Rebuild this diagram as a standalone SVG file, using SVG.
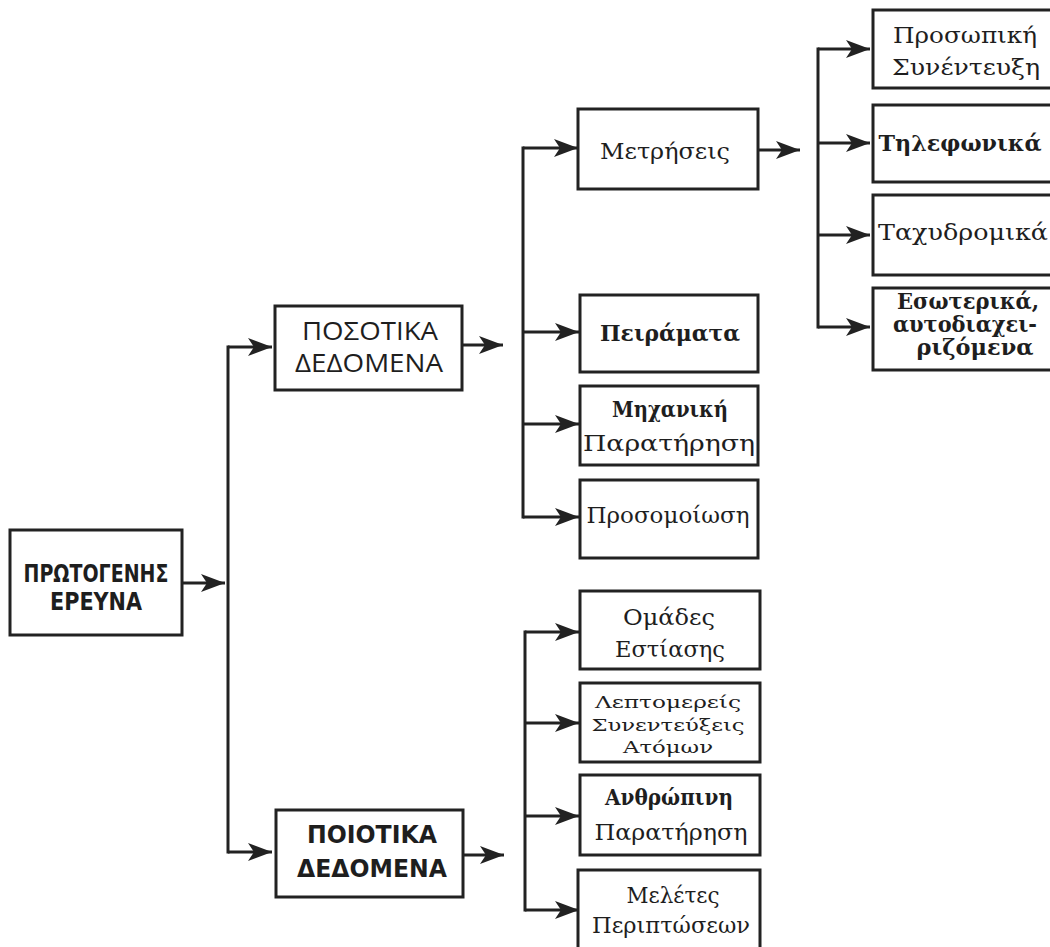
<svg xmlns="http://www.w3.org/2000/svg" width="1050" height="947" viewBox="0 0 1050 947">
  <defs>
    <marker id="arrow" markerUnits="userSpaceOnUse" markerWidth="26" markerHeight="22" refX="24" refY="11" orient="auto">
      <path d="M0,2 L24,11 L0,20 L6,11 Z" fill="#222"/>
    </marker>
    <style>
      .box { fill: #fff; stroke: #222; stroke-width: 3; }
      .wire { fill: none; stroke: #222; stroke-width: 3; }
      .tip { fill: none; stroke: #222; stroke-width: 3; marker-end: url(#arrow); }
      text { fill: #1e1e1e; text-anchor: middle; }
      .sansb { font-family: "DejaVu Sans", "Liberation Sans", sans-serif; font-weight: bold; font-size: 25px; }
      .sans { font-family: "Open Sans", "DejaVu Sans", sans-serif; font-size: 25px; }
      .serif { font-family: "DejaVu Serif", "Liberation Serif", serif; font-size: 22px; }
      .serifb { font-family: "DejaVu Serif", "Liberation Serif", serif; font-size: 22px; font-weight: bold; }
      .small { font-family: "DejaVu Serif", "Liberation Serif", serif; font-size: 17px; }
    </style>
  </defs>
  <rect width="1050" height="947" fill="#fff"/>

  <g id="connectors">
    <path class="tip" d="M182,583 H225"/>
    <path class="wire" d="M228,345.5 V853.5"/>
    <path class="tip" d="M228,347 H272"/>
    <path class="tip" d="M228,852 H272"/>

    <path class="tip" d="M462,345 H503"/>
    <path class="wire" d="M523,146.5 V518.5"/>
    <path class="tip" d="M523,148 H578"/>
    <path class="tip" d="M523,332 H579"/>
    <path class="tip" d="M523,424 H579"/>
    <path class="tip" d="M523,517 H579"/>

    <path class="tip" d="M463,855 H504"/>
    <path class="wire" d="M525,630.5 V911.5"/>
    <path class="tip" d="M525,632 H579"/>
    <path class="tip" d="M525,723 H579"/>
    <path class="tip" d="M525,816 H579"/>
    <path class="tip" d="M525,910 H579"/>

    <path class="tip" d="M758,150 H800"/>
    <path class="wire" d="M818,47.5 V328.5"/>
    <path class="tip" d="M818,49 H870"/>
    <path class="tip" d="M818,143 H870"/>
    <path class="tip" d="M818,235 H870"/>
    <path class="tip" d="M818,327 H870"/>
  </g>

  <g id="primary-research">
    <rect class="box" x="10" y="530" width="172" height="105"/>
    <text class="sansb" x="96" y="582" textLength="145" lengthAdjust="spacingAndGlyphs">ΠΡΩΤΟΓΕΝΗΣ</text>
    <text class="sansb" x="96" y="610" textLength="92" lengthAdjust="spacingAndGlyphs">ΕΡΕΥΝΑ</text>
  </g>

  <g id="quantitative">
    <rect class="box" x="275" y="306" width="187" height="84"/>
    <text class="sans" x="370" y="340" textLength="136" lengthAdjust="spacingAndGlyphs">ΠΟΣΟΤΙΚΑ</text>
    <text class="sans" x="369" y="372" textLength="148" lengthAdjust="spacingAndGlyphs">ΔΕΔΟΜΕΝΑ</text>
  </g>

  <g id="qualitative">
    <rect class="box" x="276" y="810" width="187" height="87"/>
    <text class="sansb" x="372" y="843" textLength="130" lengthAdjust="spacingAndGlyphs">ΠΟΙΟΤΙΚΑ</text>
    <text class="sansb" x="372" y="877" textLength="150" lengthAdjust="spacingAndGlyphs">ΔΕΔΟΜΕΝΑ</text>
  </g>

  <g id="measurements">
    <rect class="box" x="578" y="109" width="180" height="80"/>
    <text class="serif" x="665" y="159" textLength="130" lengthAdjust="spacingAndGlyphs">Μετρήσεις</text>
  </g>

  <g id="experiments">
    <rect class="box" x="580" y="295" width="178" height="77"/>
    <text class="serifb" x="670" y="341" textLength="140" lengthAdjust="spacingAndGlyphs">Πειράματα</text>
  </g>

  <g id="mechanical-observation">
    <rect class="box" x="580" y="386" width="178" height="79"/>
    <text class="serifb" x="670" y="417" font-size="21" textLength="116" lengthAdjust="spacingAndGlyphs">Μηχανική</text>
    <text class="serif" x="669" y="451" font-size="21" textLength="172" lengthAdjust="spacingAndGlyphs">Παρατήρηση</text>
  </g>

  <g id="simulation">
    <rect class="box" x="580" y="480" width="178" height="78"/>
    <text class="serif" x="668" y="523" font-size="21" textLength="163" lengthAdjust="spacingAndGlyphs">Προσομοίωση</text>
  </g>

  <g id="focus-groups">
    <rect class="box" x="580" y="591" width="180" height="78"/>
    <text class="serif" x="669" y="625" textLength="92" lengthAdjust="spacingAndGlyphs">Ομάδες</text>
    <text class="serif" x="670" y="657" textLength="110" lengthAdjust="spacingAndGlyphs">Εστίασης</text>
  </g>

  <g id="in-depth-interviews">
    <rect class="box" x="580" y="683" width="180" height="79"/>
    <text class="small" x="668" y="708" textLength="146" lengthAdjust="spacingAndGlyphs">Λεπτομερείς</text>
    <text class="small" x="668" y="731" textLength="153" lengthAdjust="spacingAndGlyphs">Συνεντεύξεις</text>
    <text class="small" x="668" y="753" textLength="90" lengthAdjust="spacingAndGlyphs">Ατόμων</text>
  </g>

  <g id="human-observation">
    <rect class="box" x="580" y="775" width="180" height="80"/>
    <text class="serifb" x="669" y="805" font-size="21" textLength="128" lengthAdjust="spacingAndGlyphs">Ανθρώπινη</text>
    <text class="serif" x="671" y="840" font-size="21" textLength="153" lengthAdjust="spacingAndGlyphs">Παρατήρηση</text>
  </g>

  <g id="case-studies">
    <rect class="box" x="578" y="870" width="182" height="80"/>
    <text class="serif" x="673" y="903" font-size="21" textLength="93" lengthAdjust="spacingAndGlyphs">Μελέτες</text>
    <text class="serif" x="671" y="933" font-size="21" textLength="158" lengthAdjust="spacingAndGlyphs">Περιπτώσεων</text>
  </g>

  <g id="personal-interview">
    <rect class="box" x="873" y="10" width="185" height="78"/>
    <text class="serif" x="965" y="43" textLength="144" lengthAdjust="spacingAndGlyphs">Προσωπική</text>
    <text class="serif" x="966" y="75" textLength="148" lengthAdjust="spacingAndGlyphs">Συνέντευξη</text>
  </g>

  <g id="telephone">
    <rect class="box" x="873" y="105" width="185" height="77"/>
    <text class="serifb" x="960" y="151" textLength="163" lengthAdjust="spacingAndGlyphs">Τηλεφωνικά</text>
  </g>

  <g id="postal">
    <rect class="box" x="873" y="195" width="185" height="80"/>
    <text class="serif" x="963" y="240" textLength="170" lengthAdjust="spacingAndGlyphs">Ταχυδρομικά</text>
  </g>

  <g id="internal-self-administered">
    <rect class="box" x="873" y="288" width="185" height="82"/>
    <text class="serifb" x="968" y="309" font-size="17" textLength="142" lengthAdjust="spacingAndGlyphs">Εσωτερικά,</text>
    <text class="serifb" x="965" y="332" font-size="17" textLength="144" lengthAdjust="spacingAndGlyphs">αυτοδιαχει-</text>
    <text class="serifb" x="975" y="355" font-size="17" textLength="117" lengthAdjust="spacingAndGlyphs">ριζόμενα</text>
  </g>
</svg>
